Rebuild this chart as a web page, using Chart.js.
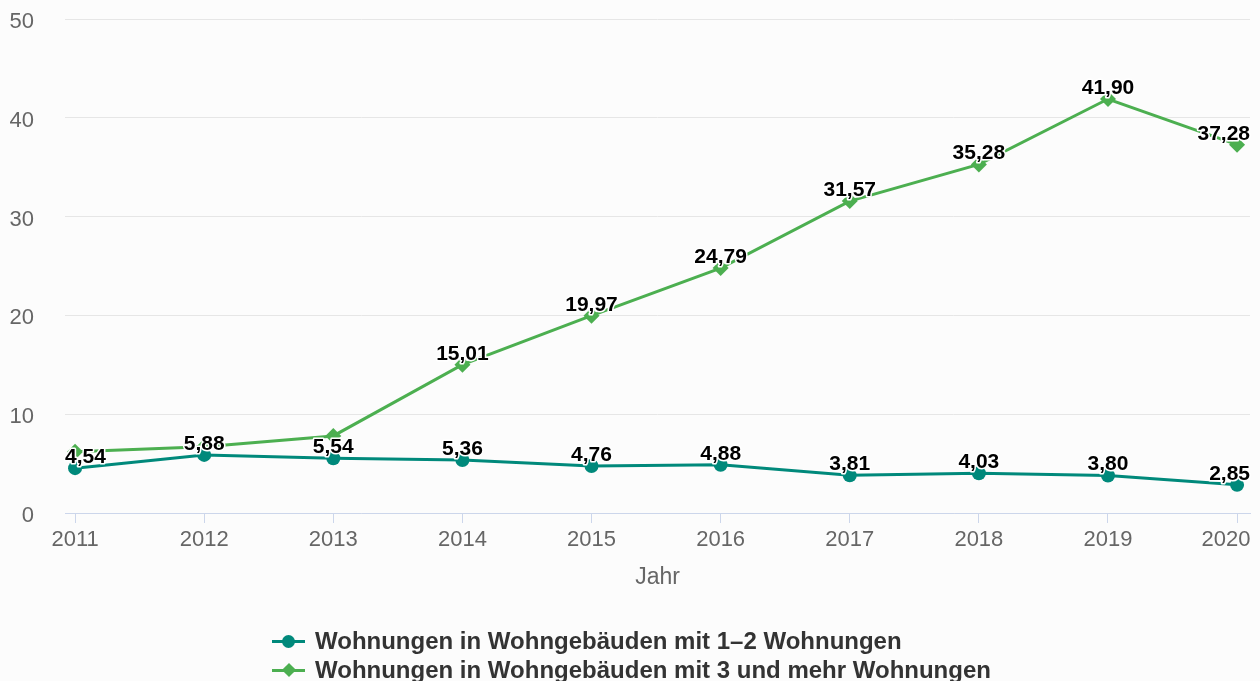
<!DOCTYPE html>
<html lang="de">
<head>
<meta charset="utf-8">
<title>Wohnungen in Wohngebäuden</title>
<script src="https://cdn.jsdelivr.net/npm/chart.js@4.4.1/dist/chart.umd.min.js"></script>
<style>
  html, body { margin: 0; padding: 0; background: #fcfcfc; }
  #wrap { position: relative; width: 1260px; height: 681px; }
  #legend {
    position: absolute; left: 272px; top: 627px;
    font: bold 24px "Liberation Sans", Arial, sans-serif; color: #333;
  }
  .item { height: 28.5px; display: flex; align-items: center; white-space: nowrap; }
  .sym { position: relative; width: 33px; height: 14px; margin-right: 10px; }
  .sym .ln { position: absolute; left: 0; right: 0; top: 6px; height: 3px; }
  .sym .dot { position: absolute; left: 10px; top: 0.5px; width: 13px; height: 13px; border-radius: 50%; }
  .sym .dia { position: absolute; left: 12px; top: 2.5px; width: 10px; height: 10px; transform: rotate(45deg); }
</style>
</head>
<body>
<div id="wrap">
  <canvas id="chart" width="1260" height="681"></canvas>
  <div id="legend">
    <div class="item"><span class="sym"><span class="ln" style="background:#00897b"></span><span class="dot" style="background:#00897b"></span></span>Wohnungen in Wohngebäuden mit 1–2 Wohnungen</div>
    <div class="item"><span class="sym"><span class="ln" style="background:#4caf50"></span><span class="dia" style="background:#4caf50"></span></span>Wohnungen in Wohngebäuden mit 3 und mehr Wohnungen</div>
  </div>
</div>
<script>
// Daten
const jahre = [2011, 2012, 2013, 2014, 2015, 2016, 2017, 2018, 2019, 2020];
const werte12 = [4.54, 5.88, 5.54, 5.36, 4.76, 4.88, 3.81, 4.03, 3.80, 2.85];
const werte3plus = [6.2, 6.7, 7.8, 15.01, 19.97, 24.79, 31.57, 35.28, 41.90, 37.28];
const yTicks = [0, 10, 20, 30, 40, 50];

const TEAL = '#00897b';
const GREEN = '#4caf50';
const FONT = '"Liberation Sans", Arial, sans-serif';

// Datenbeschriftungen wie im Original (mit weißer Kontur, im Plotbereich gehalten)
const labelPlugin = {
  id: 'valueLabels',
  afterDatasetsDraw(chart) {
    const { ctx, chartArea } = chart;
    ctx.save();
    ctx.font = 'bold 21px ' + FONT;
    ctx.textAlign = 'left';
    ctx.textBaseline = 'alphabetic';
    ctx.lineJoin = 'round';
    chart.data.datasets.forEach((ds, di) => {
      const meta = chart.getDatasetMeta(di);
      meta.data.forEach((pt, i) => {
        // überlappende Beschriftungen der zweiten Reihe blendet das Original aus
        if (di === 1 && i < 3) return;
        const txt = ds.data[i].y.toFixed(2).replace('.', ',');
        const w = ctx.measureText(txt).width;
        let x = pt.x - w / 2;
        if (x < chartArea.left) x = chartArea.left;
        if (x + w > chartArea.right) x = chartArea.right - w;
        const y = pt.y - 5;
        ctx.strokeStyle = '#fff';
        ctx.lineWidth = 3;
        ctx.strokeText(txt, x, y);
        ctx.fillStyle = '#000';
        ctx.fillText(txt, x, y);
      });
    });
    ctx.restore();
  }
};

new Chart(document.getElementById('chart'), {
  type: 'line',
  data: {
    datasets: [
      {
        label: 'Wohnungen in Wohngebäuden mit 1–2 Wohnungen',
        data: jahre.map((j, i) => ({ x: j, y: werte12[i] })),
        borderColor: TEAL,
        backgroundColor: TEAL,
        borderWidth: 3,
        pointStyle: 'circle',
        pointRadius: 7,
        pointBorderWidth: 0,
        order: 1
      },
      {
        label: 'Wohnungen in Wohngebäuden mit 3 und mehr Wohnungen',
        data: jahre.map((j, i) => ({ x: j, y: werte3plus[i] })),
        borderColor: GREEN,
        backgroundColor: GREEN,
        borderWidth: 3,
        pointStyle: 'rectRot',
        pointRadius: 8,
        pointBorderWidth: 0,
        order: 2
      }
    ]
  },
  options: {
    responsive: false,
    animation: false,
    layout: { padding: { top: 19, right: 10, left: 0, bottom: 0 } },
    plugins: {
      legend: { display: false },
      tooltip: { enabled: false }
    },
    scales: {
      x: {
        type: 'linear',
        min: 2010.922,
        max: 2020.1,
        afterBuildTicks: s => { s.ticks = jahre.map(v => ({ value: v })); },
        afterFit: s => { s.height = 168; s.paddingLeft = 0; s.paddingRight = 0; },
        border: { display: true, color: '#ccd6eb', width: 1 },
        grid: { drawOnChartArea: false, drawTicks: true, tickLength: 10, color: '#ccd6eb' },
        ticks: {
          autoSkip: false,
          maxRotation: 0,
          padding: 4,
          color: '#666',
          font: { family: FONT, size: 22 },
          // letztes Jahr etwas nach links, damit es im Bild bleibt
          callback: (v, i, t) => i === t.length - 1 ? String(v) + '\u2002\u2002' : String(v)
        },
        title: {
          display: true,
          text: 'Jahr',
          color: '#666',
          font: { family: FONT, size: 23 },
          padding: { top: 0, bottom: 90 }
        }
      },
      y: {
        min: 0,
        max: 50,
        afterBuildTicks: s => { s.ticks = yTicks.map(v => ({ value: v })); },
        afterFit: s => { s.width = 65; s.paddingTop = 0; s.paddingBottom = 0; },
        border: { display: false },
        grid: { color: '#e6e6e6', drawTicks: false },
        ticks: {
          padding: 31,
          labelOffset: 3,
          color: '#666',
          font: { family: FONT, size: 22 }
        }
      }
    }
  },
  plugins: [labelPlugin]
});
</script>
</body>
</html>
